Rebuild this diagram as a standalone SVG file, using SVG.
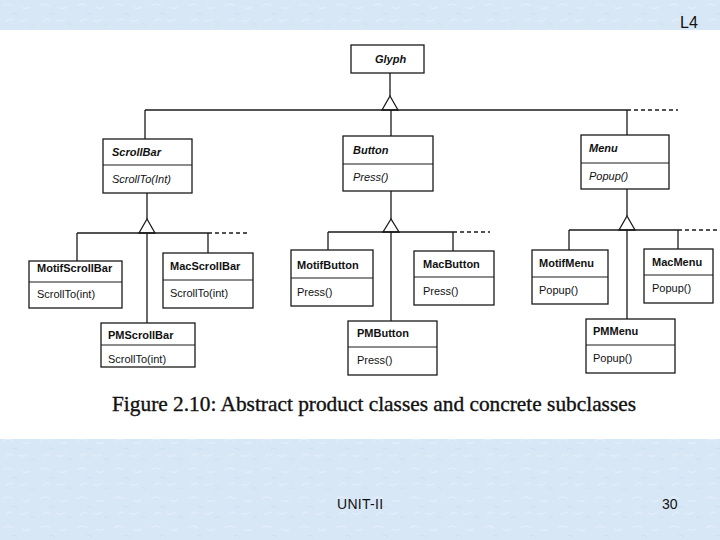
<svg xmlns="http://www.w3.org/2000/svg" width="720" height="540" viewBox="0 0 720 540">
<style>
.box{fill:#fff;stroke:#1a1a1a;stroke-width:1.3}
.div{stroke:#1a1a1a;stroke-width:1}
.ln{stroke:#1a1a1a;stroke-width:1.3;fill:none}
.dash{stroke:#1a1a1a;stroke-width:1.3;fill:none;stroke-dasharray:4 3}
.tri{fill:#fff;stroke:#1a1a1a;stroke-width:1.3}
.cn{font-family:"Liberation Sans",Arial,sans-serif;font-size:11px;font-weight:bold;fill:#111}
.an{font-family:"Liberation Sans",Arial,sans-serif;font-size:11px;font-weight:bold;font-style:italic;fill:#111}
.op{font-family:"Liberation Sans",Arial,sans-serif;font-size:11px;fill:#111}
.aop{font-family:"Liberation Sans",Arial,sans-serif;font-size:11px;font-style:italic;fill:#111}
.slide{font-family:"Liberation Sans",Arial,sans-serif;fill:#111}
</style>
<defs>
<pattern id="tex" width="37" height="29" patternUnits="userSpaceOnUse">
<rect width="37" height="29" fill="#d8e7f6"/>
<path d="M3 6 q5 -4 10 0 M19 20 q4 3 9 -1 M6 22 q3 -4 7 -2 M22 7 q3 3 8 0" stroke="#e2edf9" stroke-width="1.5" fill="none"/>
<path d="M12 14 q3 -2 6 1 M30 25 q2 -3 5 0" stroke="#cddff1" stroke-width="1" fill="none"/>
</pattern>
</defs>
<rect x="0" y="0" width="720" height="540" fill="url(#tex)"/>
<rect x="0" y="30" width="720" height="409" fill="#fff"/>

<g id="connectors">
<line class="ln" x1="390" y1="73" x2="390" y2="96"/>
<polygon class="tri" points="390,96 382,110 398,110"/>
<line class="ln" x1="145" y1="110" x2="627" y2="110"/>
<line class="dash" x1="627" y1="110" x2="678" y2="110"/>
<line class="ln" x1="145" y1="110" x2="145" y2="139"/>
<line class="ln" x1="391" y1="110" x2="391" y2="136"/>
<line class="ln" x1="627" y1="110" x2="627" y2="135"/>

<line class="ln" x1="147" y1="193" x2="147" y2="219"/>
<polygon class="tri" points="147,219 139,233 155,233"/>
<line class="ln" x1="77" y1="233" x2="208" y2="233"/>
<line class="dash" x1="208" y1="233" x2="247" y2="233"/>
<line class="ln" x1="77" y1="233" x2="77" y2="261"/>
<line class="ln" x1="208" y1="233" x2="208" y2="253"/>
<line class="ln" x1="147" y1="233" x2="147" y2="323"/>

<line class="ln" x1="391" y1="191" x2="391" y2="219"/>
<polygon class="tri" points="391,219 383,232 399,232"/>
<line class="ln" x1="328" y1="232" x2="453" y2="232"/>
<line class="dash" x1="453" y1="232" x2="490" y2="232"/>
<line class="ln" x1="328" y1="232" x2="328" y2="250"/>
<line class="ln" x1="453" y1="232" x2="453" y2="251"/>
<line class="ln" x1="391" y1="232" x2="391" y2="321"/>

<line class="ln" x1="627" y1="189" x2="627" y2="216"/>
<polygon class="tri" points="627,216 619,230 635,230"/>
<line class="ln" x1="569" y1="230" x2="678" y2="230"/>
<line class="dash" x1="678" y1="230" x2="720" y2="230"/>
<line class="ln" x1="569" y1="230" x2="569" y2="250"/>
<line class="ln" x1="678" y1="230" x2="678" y2="249"/>
<line class="ln" x1="627" y1="230" x2="627" y2="319"/>
</g>

<g id="Glyph"><rect class="box" x="351" y="45" width="73" height="28"/><text class="an" x="375" y="63">Glyph</text></g>

<g id="ScrollBar"><rect class="box" x="103" y="139" width="89" height="54"/><line class="div" x1="103" y1="165" x2="192" y2="165"/><text class="an" x="112" y="156">ScrollBar</text><text class="aop" x="112" y="183">ScrollTo(Int)</text></g>
<g id="Button"><rect class="box" x="343" y="136" width="90" height="55"/><line class="div" x1="343" y1="164" x2="433" y2="164"/><text class="an" x="353" y="154">Button</text><text class="aop" x="353" y="181">Press()</text></g>
<g id="Menu"><rect class="box" x="581" y="135" width="88" height="54"/><line class="div" x1="581" y1="163" x2="669" y2="163"/><text class="an" x="589" y="152">Menu</text><text class="aop" x="589" y="180">Popup()</text></g>

<g id="MotifScrollBar"><rect class="box" x="29" y="261" width="93" height="47"/><line class="div" x1="29" y1="282" x2="122" y2="282"/><text class="cn" x="37" y="272">MotifScrollBar</text><text class="op" x="37" y="298">ScrollTo(int)</text></g>
<g id="MacScrollBar"><rect class="box" x="163" y="253" width="90" height="55"/><line class="div" x1="163" y1="280" x2="253" y2="280"/><text class="cn" x="170" y="270">MacScrollBar</text><text class="op" x="170" y="297">ScrollTo(int)</text></g>
<g id="PMScrollBar"><rect class="box" x="101" y="323" width="94" height="44"/><line class="div" x1="101" y1="345" x2="195" y2="345"/><text class="cn" x="108" y="339">PMScrollBar</text><text class="op" x="108" y="363">ScrollTo(int)</text></g>

<g id="MotifButton"><rect class="box" x="291" y="250" width="82" height="56"/><line class="div" x1="291" y1="278" x2="373" y2="278"/><text class="cn" x="297" y="269">MotifButton</text><text class="op" x="297" y="296">Press()</text></g>
<g id="MacButton"><rect class="box" x="414" y="251" width="80" height="54"/><line class="div" x1="414" y1="277" x2="494" y2="277"/><text class="cn" x="423" y="268">MacButton</text><text class="op" x="423" y="295">Press()</text></g>
<g id="PMButton"><rect class="box" x="348" y="321" width="89" height="54"/><line class="div" x1="348" y1="347" x2="437" y2="347"/><text class="cn" x="357" y="337">PMButton</text><text class="op" x="357" y="364">Press()</text></g>

<g id="MotifMenu"><rect class="box" x="532" y="250" width="76" height="54"/><line class="div" x1="532" y1="277" x2="608" y2="277"/><text class="cn" x="539" y="267">MotifMenu</text><text class="op" x="539" y="294">Popup()</text></g>
<g id="MacMenu"><rect class="box" x="644" y="249" width="69" height="54"/><line class="div" x1="644" y1="275" x2="713" y2="275"/><text class="cn" x="652" y="266">MacMenu</text><text class="op" x="652" y="292">Popup()</text></g>
<g id="PMMenu"><rect class="box" x="586" y="319" width="89" height="54"/><line class="div" x1="586" y1="345" x2="675" y2="345"/><text class="cn" x="593" y="335">PMMenu</text><text class="op" x="593" y="362">Popup()</text></g>

<text x="112" y="411" font-family="'Liberation Serif','Times New Roman',serif" font-size="21" fill="#111" stroke="#111" stroke-width="0.35" textLength="524" lengthAdjust="spacingAndGlyphs">Figure 2.10: Abstract product classes and concrete subclasses</text>
<text class="slide" x="680" y="28" font-size="16">L4</text>
<text class="slide" x="337" y="509" font-size="14" letter-spacing="0.3">UNIT-II</text>
<text class="slide" x="662" y="509" font-size="14">30</text>
</svg>
